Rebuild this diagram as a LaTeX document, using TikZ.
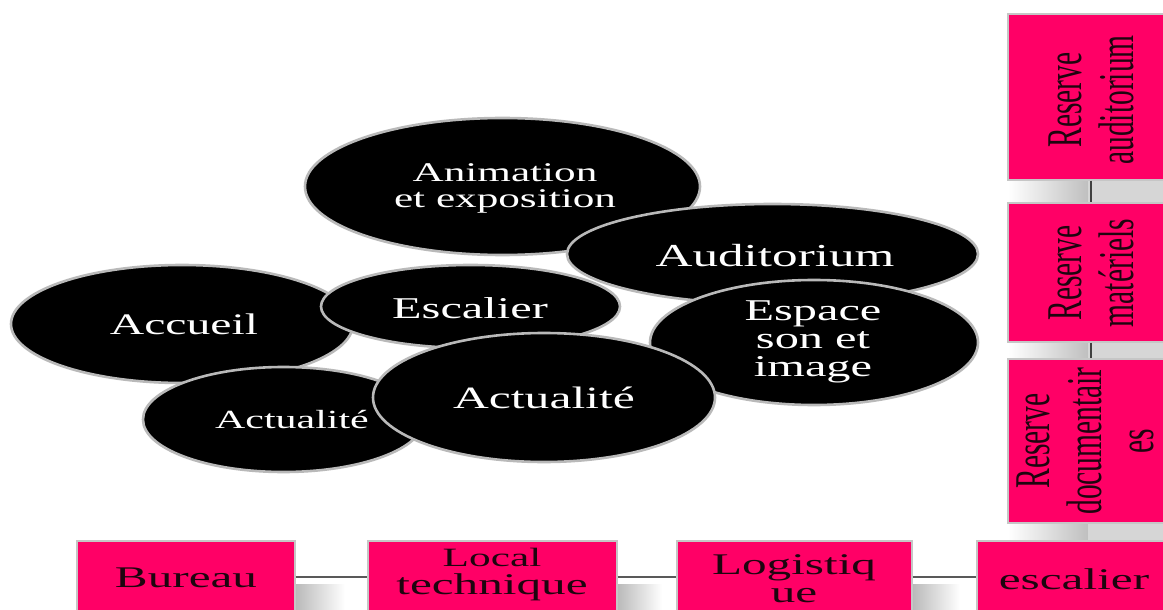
\documentclass[tikz,border=0pt]{standalone}
\usepackage{fontspec}
\setmainfont{Liberation Serif}
\newfontfamily\elfont[FakeStretch=1.6]{Liberation Serif}
\newfontfamily\bxfont[FakeStretch=1.64]{Liberation Serif}
\newfontfamily\rtfont[FakeStretch=0.59]{Liberation Serif}
\usetikzlibrary{shapes.geometric,shadings}
\definecolor{hotpink}{RGB}{255,0,102}
\definecolor{boxtext}{RGB}{30,5,15}
\begin{document}
\begin{tikzpicture}[x=0.5pt,y=-0.5pt,
  bubble/.style={ellipse, fill=black, draw=gray!55, line width=1.3pt, inner sep=0pt},
  btext/.style={text=white, align=center, inner sep=0pt},
  pbox/.style={rectangle, fill=hotpink, draw=gray!45, line width=0.6pt, inner sep=0pt},
  vtext/.style={text=boxtext, align=center, inner sep=0pt, rotate=90,
                font=\rtfont\fontsize{25pt}{26pt}\selectfont},
  htext/.style={text=boxtext, align=center, inner sep=0pt,
                font=\bxfont\fontsize{15pt}{14pt}\selectfont},
  link/.style={draw=black!75, line width=1pt},
  gapshade/.style={left color=gray!55, right color=white, draw=none}
]
\useasboundingbox (0,0) rectangle (1163,610);
\clip (0,0) rectangle (1163,610);
\fill[white] (0,0) rectangle (1163,610);

% ---------- ellipses ----------
\node[bubble, minimum width=197.5pt, minimum height=68.5pt] (anim) at (502.5,186.5) {};
\node[bubble, minimum width=205.5pt, minimum height=50pt] (audit) at (772.5,254) {};
\node[bubble, minimum width=164pt, minimum height=62.5pt] (espace) at (814,342.5) {};
\node[bubble, minimum width=171pt, minimum height=59pt] (accueil) at (182,324) {};
\node[bubble, minimum width=149.5pt, minimum height=41.5pt] (escal) at (470.5,306.5) {};
\node[bubble, minimum width=140.5pt, minimum height=52.5pt] (actS) at (283.5,419.5) {};
\node[bubble, minimum width=171pt, minimum height=64.5pt] (actL) at (544,397.5) {};

\node[btext, font=\elfont\fontsize{13.5pt}{13pt}\selectfont] (animT) at (505,188) {Animation\\et exposition};
\node[btext, font=\elfont\fontsize{16pt}{15pt}\selectfont] (auditT) at (775,256) {Auditorium};
\node[btext, font=\elfont\fontsize{15.1pt}{14pt}\selectfont] (espaceT) at (813,342) {Espace\\son et\\image};
\node[btext, font=\elfont\fontsize{14.9pt}{14pt}\selectfont] (accueilT) at (184,324) {Accueil};
\node[btext, font=\elfont\fontsize{15.1pt}{14pt}\selectfont] (escalT) at (470,308) {Escalier};
\node[btext, font=\elfont\fontsize{13.1pt}{12pt}\selectfont] (actST) at (292,420) {Actualité};
\node[btext, font=\elfont\fontsize{15.5pt}{14pt}\selectfont] (actLT) at (544,398) {Actualité};

% ---------- shadows right column ----------
\shade[left color=white, right color=gray!50] (1008,180) rectangle (1088,203);
\fill[gray!32] (1088,180) rectangle (1163,203);
\shade[left color=white, right color=gray!50] (1008,342) rectangle (1088,359);
\fill[gray!32] (1088,342) rectangle (1163,359);
\shade[left color=white, right color=gray!50] (1008,523) rectangle (1088,540);
\fill[gray!32] (1088,523) rectangle (1163,540);

% ---------- shadows bottom row ----------
\shade[gapshade] (295,584) rectangle (345,613);
\shade[gapshade] (617,584) rectangle (662,613);
\shade[gapshade] (912,584) rectangle (960,613);

% ---------- right column boxes ----------
\node[pbox, minimum width=83pt, minimum height=83pt] (rb1) at (1091,97) {};
\node[pbox, minimum width=83pt, minimum height=69.5pt] (rb2) at (1091,272.5) {};
\node[pbox, minimum width=83pt, minimum height=82pt] (rb3) at (1091,441) {};
\node[vtext] (rb1T) at (1091,100) {Reserve\\auditorium};
\node[vtext] (rb2T) at (1091,273) {Reserve\\matériels};
\node[vtext] (rb3T) at (1085,441) {Reserve\\documentair\\es};
\draw[link] (rb1.south) -- (rb2.north);
\draw[link] (rb2.south) -- (rb3.north);

% ---------- bottom row boxes ----------
\node[pbox, minimum width=109pt, minimum height=36pt] (bb1) at (186,577) {};
\node[pbox, minimum width=124.5pt, minimum height=36pt] (bb2) at (492.5,577) {};
\node[pbox, minimum width=117.5pt, minimum height=36pt] (bb3) at (794.5,577) {};
\node[pbox, minimum width=97pt, minimum height=36pt] (bb4) at (1074,577) {};
\node[htext] (bb1T) at (186,578) {Bureau};
\node[htext] (bb2T) at (492,575) {{\fontsize{13.2pt}{14pt}\selectfont Local}\\technique};
\node[htext] (bb3T) at (794,579) {Logistiq\\ue};
\node[htext] (bb4T) at (1074,579) {escalier};
\draw[link, draw=black!65] (bb1.east) -- (bb2.west);
\draw[link, draw=black!65] (bb2.east) -- (bb3.west);
\draw[link, draw=black!65] (bb3.east) -- (bb4.west);
\end{tikzpicture}
\end{document}
